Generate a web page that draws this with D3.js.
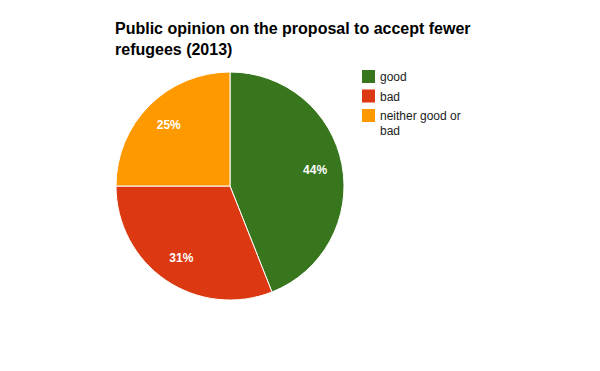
<!DOCTYPE html>
<html lang="en">
<head>
    <meta charset="utf-8" />
    <title>Public opinion pie</title>
    <script src="https://d3js.org/d3.v7.min.js"></script>
    <style>
        body { margin: 0; background: white; }
        svg { font-family: Arial, 'Liberation Sans', sans-serif; }
    </style>
</head>
<body>
    <script>
        // Data
        const categories = ["good", "bad", "neither good or bad"];
        const values = [44, 31, 25];
        const colors = ["#38761d", "#dc3912", "#ff9900"];

        const width = 600, height = 371;
        const cx = 230, cy = 186, radius = 114;

        const svg = d3.select("body").append("svg")
            .attr("width", width)
            .attr("height", height);

        // Title
        const title = svg.append("text")
            .attr("x", 115)
            .attr("y", 34)
            .style("font-size", "16px")
            .style("font-weight", "bold")
            .style("fill", "#000");
        title.append("tspan").attr("x", 115).text("Public opinion on the proposal to accept fewer");
        title.append("tspan").attr("x", 115).attr("dy", 21).text("refugees (2013)");

        // Pie
        const pie = d3.pie().sort(null).value(d => d);
        const arc = d3.arc().innerRadius(0).outerRadius(radius);
        const labelArc = d3.arc().innerRadius(radius * 0.76).outerRadius(radius * 0.76);
        const total = d3.sum(values);

        const g = svg.append("g").attr("transform", `translate(${cx},${cy})`);
        const slices = g.selectAll("g.slice")
            .data(pie(values))
            .enter().append("g").attr("class", "slice");

        slices.append("path")
            .attr("d", arc)
            .attr("fill", (d, i) => colors[i])
            .attr("stroke", "white")
            .attr("stroke-width", 1);

        slices.append("text")
            .attr("transform", d => `translate(${labelArc.centroid(d)})`)
            .attr("dy", "0.35em")
            .attr("text-anchor", "middle")
            .style("font-size", "12px")
            .style("font-weight", "bold")
            .style("fill", "white")
            .text(d => Math.round(d.data / total * 100) + "%");

        // Legend
        const legendLines = [["good"], ["bad"], ["neither good or", "bad"]];
        const legend = svg.append("g").attr("transform", "translate(362,70)");
        let yOff = 0;
        legendLines.forEach((lines, i) => {
            const item = legend.append("g").attr("transform", `translate(0,${yOff})`);
            item.append("rect")
                .attr("width", 13)
                .attr("height", 13)
                .attr("fill", colors[i]);
            const t = item.append("text")
                .attr("x", 18)
                .attr("y", 11)
                .style("font-size", "12px")
                .style("fill", "#222");
            lines.forEach((ln, j) => {
                t.append("tspan").attr("x", 18).attr("dy", j === 0 ? 0 : 15).text(ln);
            });
            yOff += 19.5 + (lines.length - 1) * 15;
        });
    </script>
</body>
</html>
